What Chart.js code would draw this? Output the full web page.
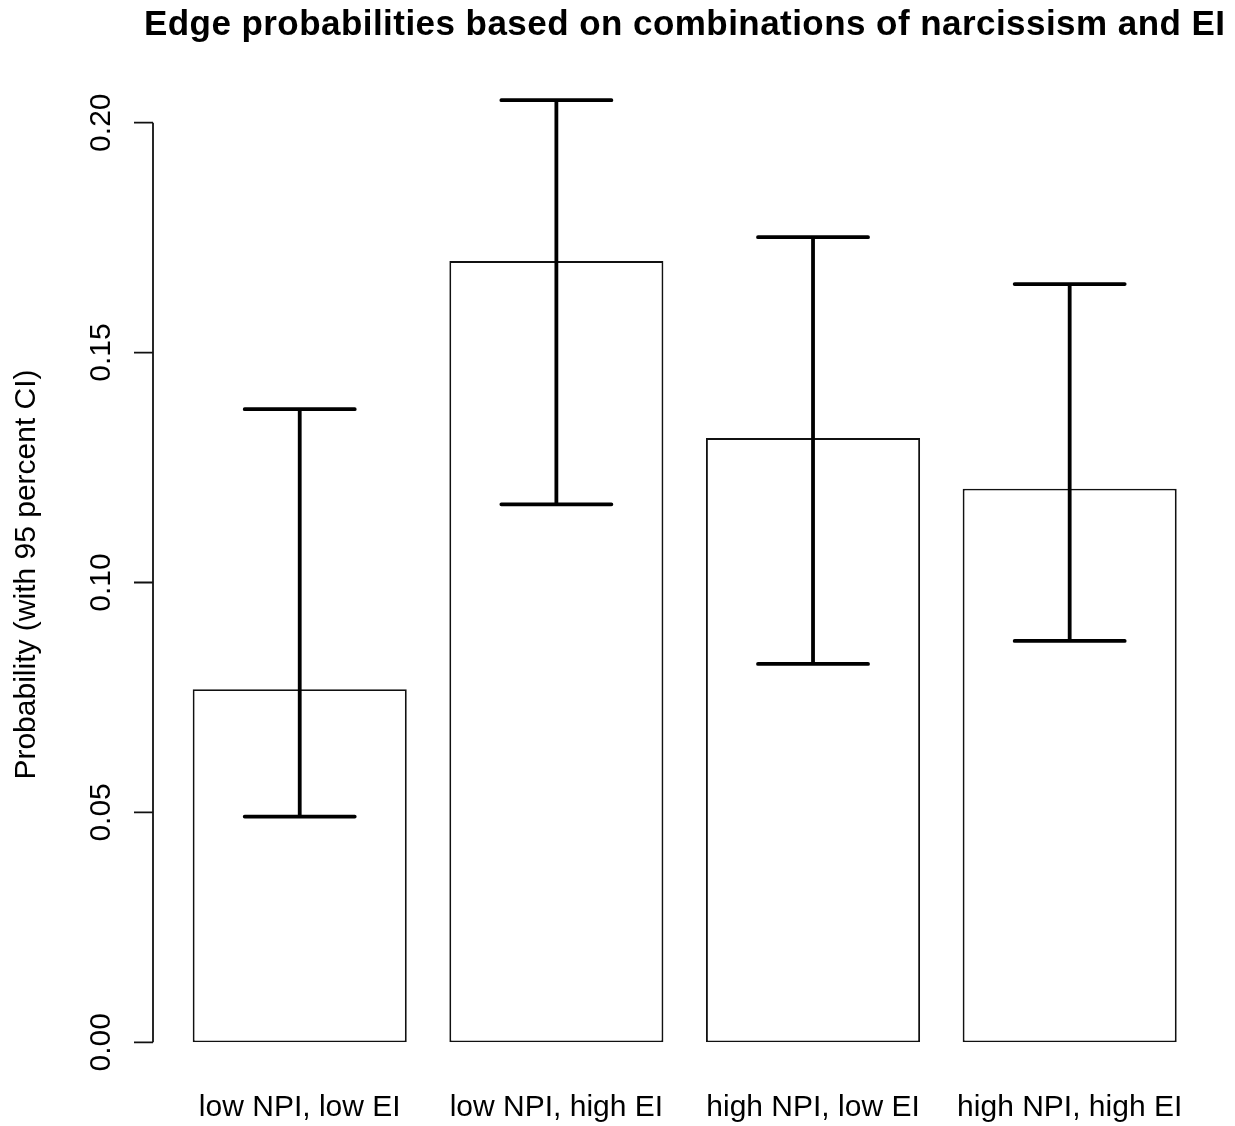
<!DOCTYPE html>
<html>
<head>
<meta charset="utf-8">
<script src="https://cdn.jsdelivr.net/npm/chart.js@4.4.1/dist/chart.umd.min.js"></script>
<style>
  body { margin: 0; background: #fff; }
  canvas { display: block; }
</style>
</head>
<body>
<canvas id="myChart" width="1235" height="1126"></canvas>
<script>
// Categories on the x axis
var categories = ['low NPI, low EI', 'low NPI, high EI', 'high NPI, low EI', 'high NPI, high EI'];

// Estimated probabilities (bar heights)
var probValues = [0.0768, 0.1699, 0.1314, 0.1204];

// 95 percent confidence interval bounds
var ciLower = [0.0491, 0.1170, 0.0823, 0.0873];
var ciUpper = [0.1377, 0.2049, 0.1751, 0.1649];

// Y axis tick values
var yTicks = [0, 0.05, 0.10, 0.15, 0.20];

var titleText = 'Edge probabilities based on combinations of narcissism and EI';
var yTitle = 'Probability (with 95 percent CI)';
var fontFamily = "'Liberation Sans', Arial, Helvetica, sans-serif";

// Draws the error bars on top of each bar
var errorBarPlugin = {
    id: 'errorBars',
    afterDatasetsDraw: function(chart) {
        var ctx = chart.ctx;
        var yScale = chart.scales.y;
        var meta = chart.getDatasetMeta(0);
        ctx.save();
        ctx.strokeStyle = '#000';
        ctx.lineWidth = 3.8;
        meta.data.forEach(function(bar, i) {
            var x = bar.x;
            var yLo = yScale.getPixelForValue(ciLower[i]);
            var yHi = yScale.getPixelForValue(ciUpper[i]);
            var half = bar.width * 0.257;
            ctx.lineCap = 'butt';
            ctx.beginPath();
            ctx.moveTo(x, yLo);
            ctx.lineTo(x, yHi);
            ctx.stroke();
            ctx.lineCap = 'round';
            ctx.beginPath();
            ctx.moveTo(x - half, yHi);
            ctx.lineTo(x + half, yHi);
            ctx.moveTo(x - half, yLo);
            ctx.lineTo(x + half, yLo);
            ctx.stroke();
        });
        ctx.restore();
    }
};

// Draws an R style y axis (line spans first to last tick, rotated labels) and the titles
var rAxisPlugin = {
    id: 'rAxis',
    afterDraw: function(chart) {
        var ctx = chart.ctx;
        var yScale = chart.scales.y;
        var area = chart.chartArea;
        var axisX = area.left - 18.4;
        var top = yScale.getPixelForValue(yTicks[yTicks.length - 1]);
        var bottom = yScale.getPixelForValue(yTicks[0]);

        ctx.save();
        ctx.strokeStyle = '#111';
        ctx.lineWidth = 1.8;
        ctx.beginPath();
        ctx.moveTo(axisX, top);
        ctx.lineTo(axisX, bottom);
        yTicks.forEach(function(v) {
            var py = yScale.getPixelForValue(v);
            ctx.moveTo(axisX - 19, py);
            ctx.lineTo(axisX, py);
        });
        ctx.stroke();

        ctx.fillStyle = '#000';
        ctx.font = '30px ' + fontFamily;
        ctx.textAlign = 'center';
        ctx.textBaseline = 'alphabetic';
        yTicks.forEach(function(v) {
            var py = yScale.getPixelForValue(v);
            ctx.save();
            ctx.translate(axisX - 43, py);
            ctx.rotate(-Math.PI / 2);
            ctx.fillText(v.toFixed(2), 0, 0);
            ctx.restore();
        });

        // y axis title
        ctx.save();
        ctx.translate(35, (area.top + area.bottom) / 2 + 15);
        ctx.rotate(-Math.PI / 2);
        ctx.fillText(yTitle, 0, 0);
        ctx.restore();

        // main title, centred over the plot area
        ctx.font = 'bold 35px ' + fontFamily;
        ctx.letterSpacing = '0.45px';
        ctx.fillText(titleText, (area.left + area.right) / 2, 35);

        ctx.restore();
    }
};

document.addEventListener("DOMContentLoaded", function() {
    var ctx = document.getElementById('myChart').getContext('2d');
    var myChart = new Chart(ctx, {
        type: 'bar',
        data: {
            labels: categories,
            datasets: [{
                label: 'Probability',
                data: probValues,
                backgroundColor: '#fff',
                borderColor: '#111',
                borderWidth: 1.9,
                borderSkipped: false,
                categoryPercentage: 1,
                barPercentage: 0.834
            }]
        },
        options: {
            responsive: false,
            animation: false,
            layout: {
                padding: { left: 0, right: 37, top: 76.7, bottom: 0 }
            },
            plugins: {
                legend: { display: false },
                tooltip: { enabled: false },
                title: { display: false }
            },
            scales: {
                x: {
                    grid: { display: false, drawTicks: false },
                    border: { display: false },
                    ticks: {
                        color: '#000',
                        font: { family: fontFamily, size: 30 },
                        padding: 47,
                        maxRotation: 0,
                        autoSkip: false
                    },
                    afterFit: function(scale) { scale.height = 83.7; }
                },
                y: {
                    min: 0,
                    max: 0.21,
                    grid: { display: false, drawTicks: false },
                    border: { display: false },
                    ticks: { display: false },
                    afterBuildTicks: function(scale) {
                        scale.ticks = yTicks.map(function(v) { return { value: v }; });
                    },
                    afterFit: function(scale) { scale.width = 171.4; }
                }
            }
        },
        plugins: [errorBarPlugin, rAxisPlugin]
    });
});
</script>
</body>
</html>
